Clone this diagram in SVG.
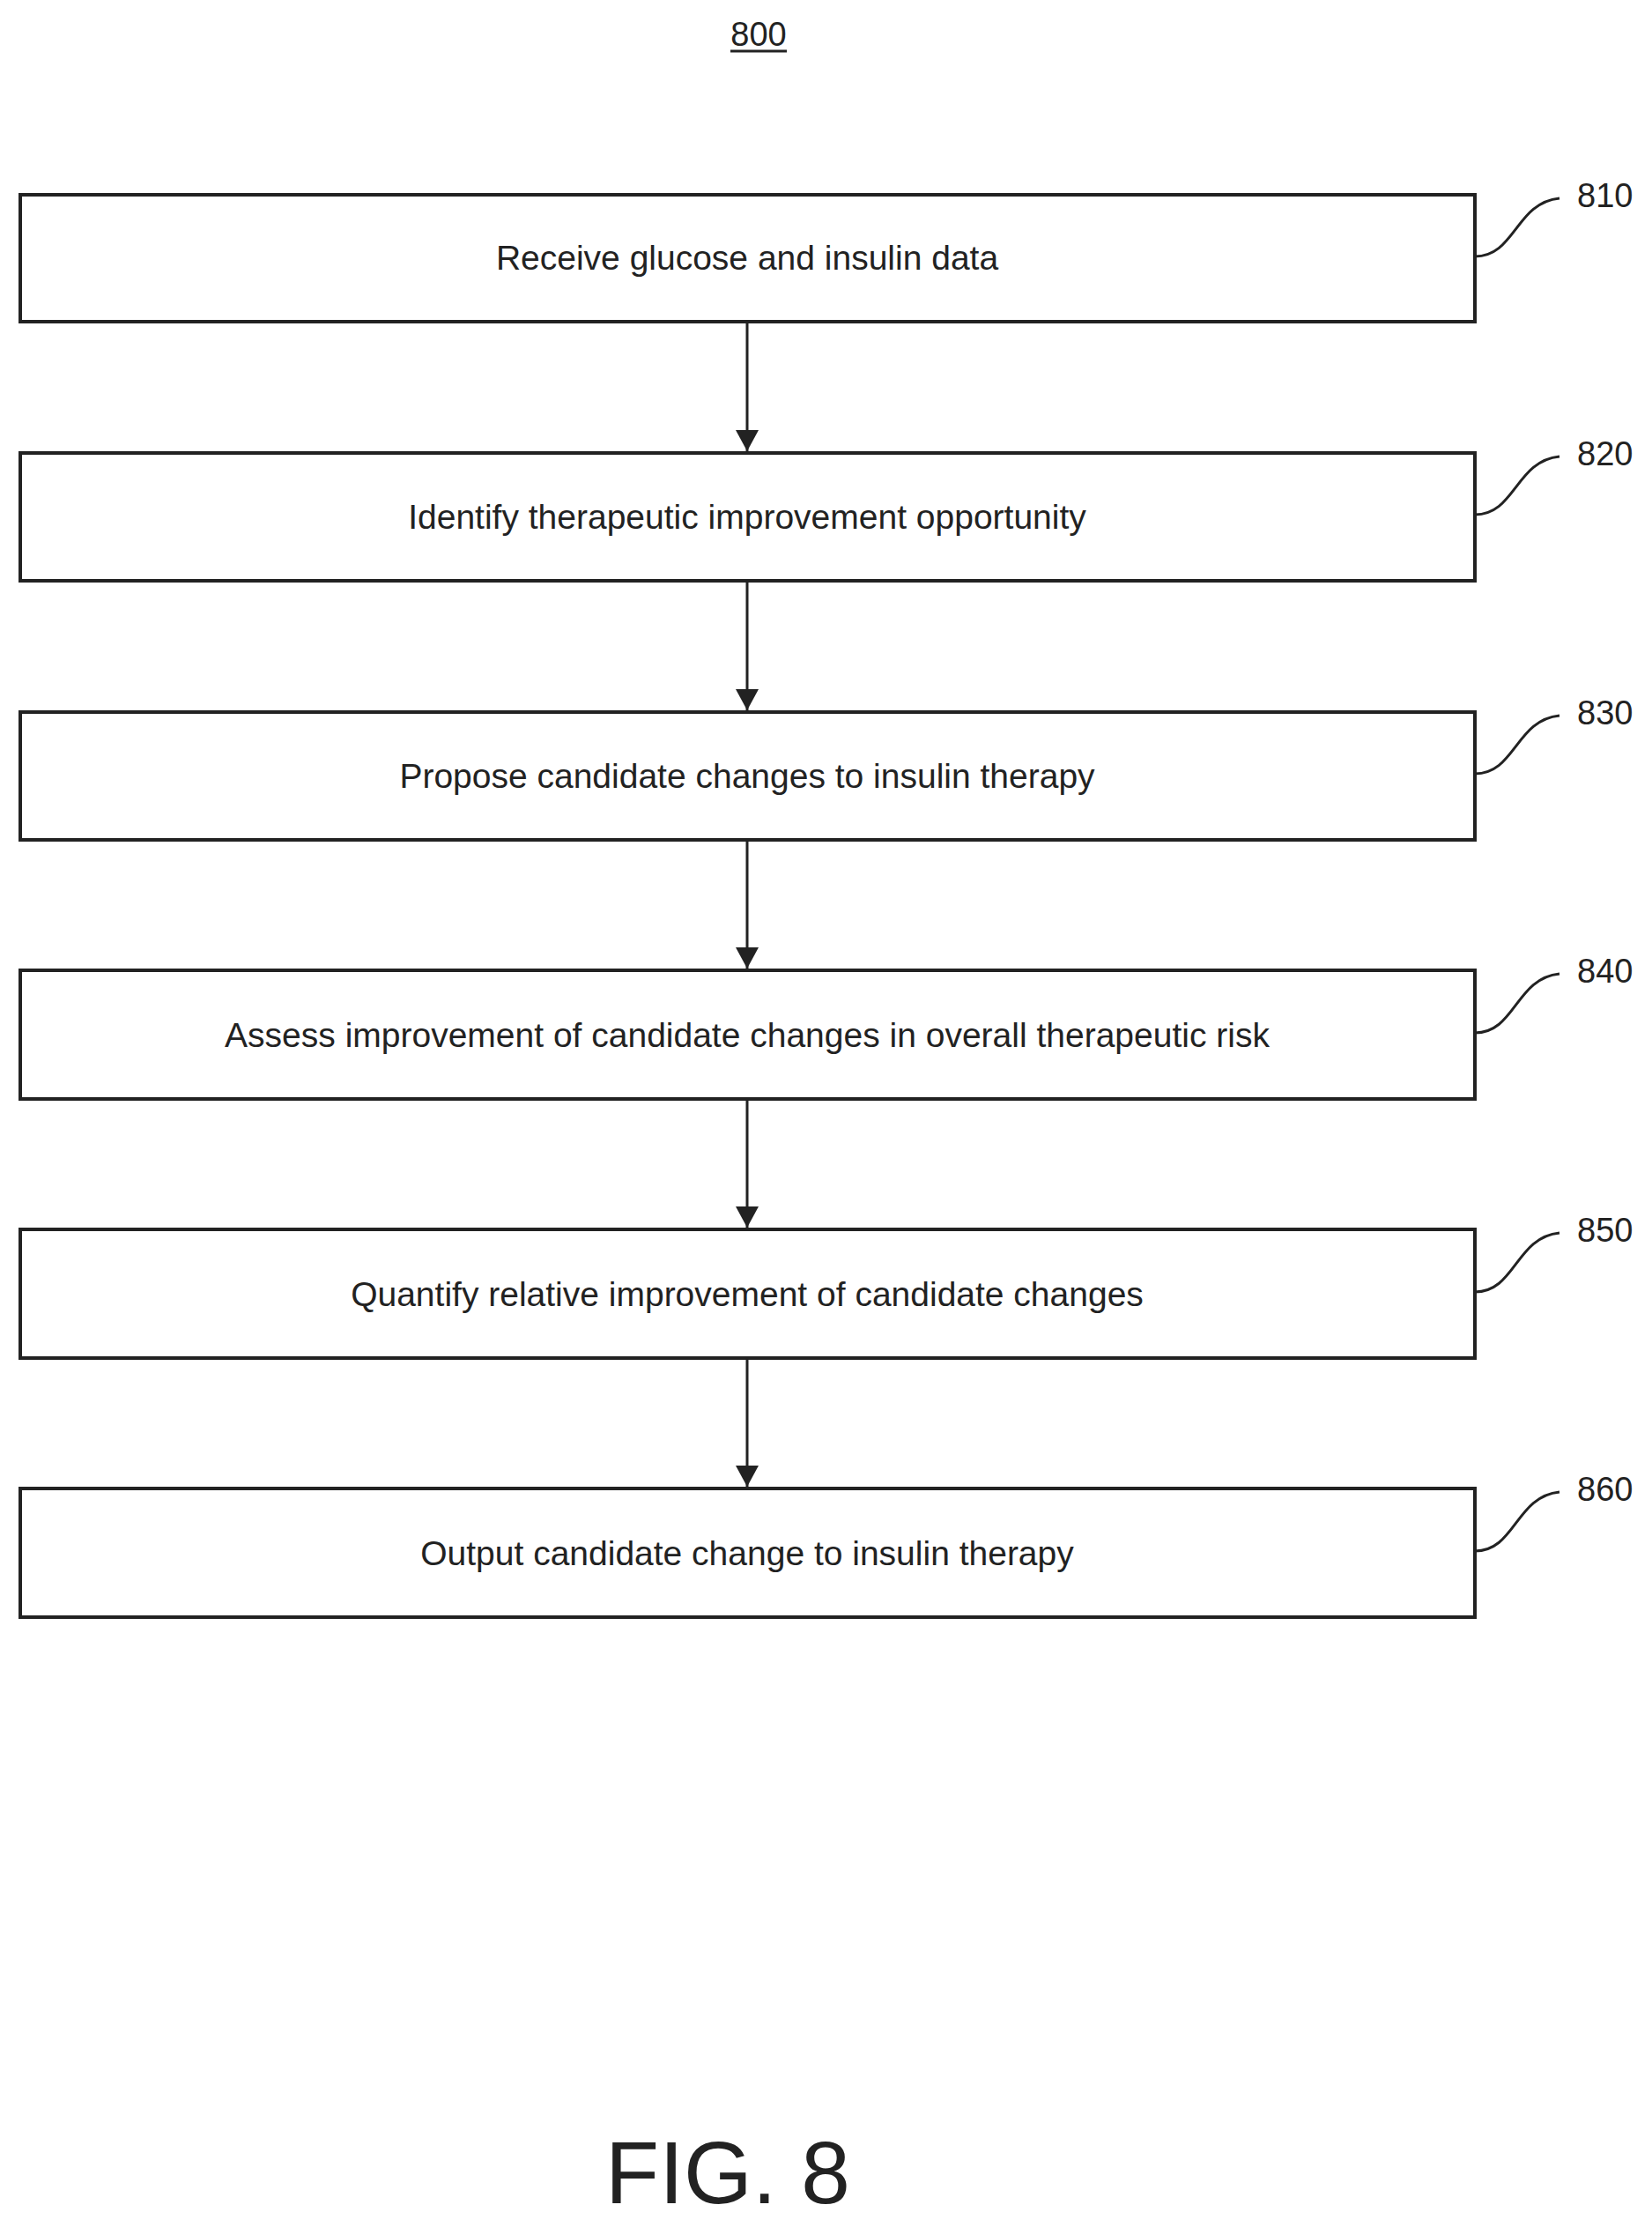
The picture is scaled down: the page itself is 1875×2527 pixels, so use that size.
<svg xmlns="http://www.w3.org/2000/svg" width="1875" height="2527" viewBox="0 0 1875 2527">
<style>
.b{fill:#fff;stroke:#222;stroke-width:4}
.t{font-family:"Liberation Sans",Arial,sans-serif;font-size:39px;fill:#222;text-anchor:middle}
.n{font-family:"Liberation Sans",Arial,sans-serif;font-size:38px;fill:#222}
.c{fill:none;stroke:#222;stroke-width:3}
</style>
<defs>
<marker id="ah" markerWidth="24" markerHeight="26" refX="24" refY="13" orient="auto" markerUnits="userSpaceOnUse"><path d="M0,0 L24,13 L0,26 z" fill="#222"/></marker></defs>
<text class="t" x="861" y="52" style="font-size:38px">800</text>
<line x1="829" y1="58" x2="893" y2="58" stroke="#222" stroke-width="3"/>
<g id="n810"><rect class="b" x="23" y="221" width="1651" height="144"/><text class="t" x="848" y="306">Receive glucose and insulin data</text><path class="c" d="M1674,291 C1720,291 1720,230 1770,225"/><text class="n" x="1790" y="235">810</text></g>
<g id="n820"><rect class="b" x="23" y="514" width="1651" height="145"/><text class="t" x="848" y="600">Identify therapeutic improvement opportunity</text><path class="c" d="M1674,584 C1720,584 1720,523 1770,518"/><text class="n" x="1790" y="528">820</text></g>
<g id="n830"><rect class="b" x="23" y="808" width="1651" height="145"/><text class="t" x="848" y="894">Propose candidate changes to insulin therapy</text><path class="c" d="M1674,878 C1720,878 1720,817 1770,812"/><text class="n" x="1790" y="822">830</text></g>
<g id="n840"><rect class="b" x="23" y="1101" width="1651" height="146"/><text class="t" x="848" y="1188">Assess improvement of candidate changes in overall therapeutic risk</text><path class="c" d="M1674,1172 C1720,1172 1720,1110 1770,1105"/><text class="n" x="1790" y="1115">840</text></g>
<g id="n850"><rect class="b" x="23" y="1395" width="1651" height="146"/><text class="t" x="848" y="1482">Quantify relative improvement of candidate changes</text><path class="c" d="M1674,1466 C1720,1466 1720,1404 1770,1399"/><text class="n" x="1790" y="1409">850</text></g>
<g id="n860"><rect class="b" x="23" y="1689" width="1651" height="146"/><text class="t" x="848" y="1776">Output candidate change to insulin therapy</text><path class="c" d="M1674,1760 C1720,1760 1720,1698 1770,1693"/><text class="n" x="1790" y="1703">860</text></g>
<g id="connectors" stroke="#222" stroke-width="3">
<line x1="848" y1="365" x2="848" y2="512" marker-end="url(#ah)"/>
<line x1="848" y1="659" x2="848" y2="806" marker-end="url(#ah)"/>
<line x1="848" y1="953" x2="848" y2="1099" marker-end="url(#ah)"/>
<line x1="848" y1="1247" x2="848" y2="1393" marker-end="url(#ah)"/>
<line x1="848" y1="1541" x2="848" y2="1687" marker-end="url(#ah)"/>
</g>
<text class="t" x="826" y="2500" style="font-size:100px">FIG. 8</text>
</svg>
